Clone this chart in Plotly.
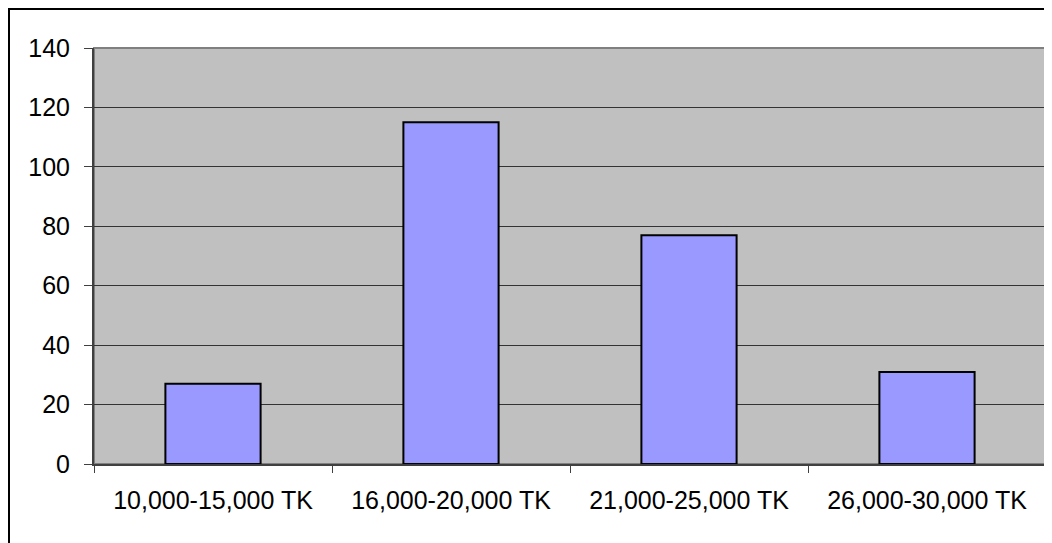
import plotly.graph_objects as go

categories = ["10,000-15,000 TK", "16,000-20,000 TK", "21,000-25,000 TK", "26,000-30,000 TK"]
values = [27, 115, 77, 31]
y_ticks = [0, 20, 40, 60, 80, 100, 120, 140]

W, H = 1052, 543
L, R, T, B = 86, 14, 40, 87
pw = W - L - R
ph = H - T - B

def px_x(x):
    return (x - L) / pw

def px_y(y):
    return (H - B - y) / ph

fig = go.Figure()
fig.add_trace(go.Bar(
    x=categories, y=values,
    marker=dict(color="#9999FF", line=dict(color="#000000", width=2)),
    width=0.4,
))

xfont = dict(family="Liberation Sans, Arial, sans-serif", size=25, color="#000000")
yfont = dict(family="Liberation Sans, Arial, sans-serif", size=25, color="#000000")

fig.update_layout(
    width=W, height=H,
    margin=dict(l=L, r=R, t=T, b=B, pad=0),
    paper_bgcolor="#FFFFFF",
    plot_bgcolor="#C0C0C0",
    showlegend=False,
    xaxis=dict(
        showgrid=False, showline=True, linecolor="#404040", linewidth=2,
        ticks="outside", tickson="boundaries", ticklen=7, tickcolor="#404040", tickwidth=1,
        tickfont=xfont, zeroline=False, ticklabelstandoff=13,
    ),
    yaxis=dict(
        range=[0, 140], tickvals=y_ticks, showgrid=True, gridcolor="#333333", gridwidth=1,
        showline=True, linecolor="#404040", linewidth=2,
        ticks="outside", ticklen=8, tickcolor="#404040", tickwidth=1,
        tickfont=yfont, zeroline=False, ticklabelstandoff=9,
    ),
    shapes=[
        dict(type="rect", xref="paper", yref="paper", x0=0, x1=1, y0=0, y1=1,
             line=dict(color="#808080", width=2), layer="below"),
        dict(type="rect", xref="paper", yref="paper",
             x0=px_x(1), x1=px_x(W + 20), y0=px_y(H + 20), y1=px_y(1),
             line=dict(color="#000000", width=2), fillcolor="rgba(0,0,0,0)"),
    ],
)

fig.write_html("out.html")
